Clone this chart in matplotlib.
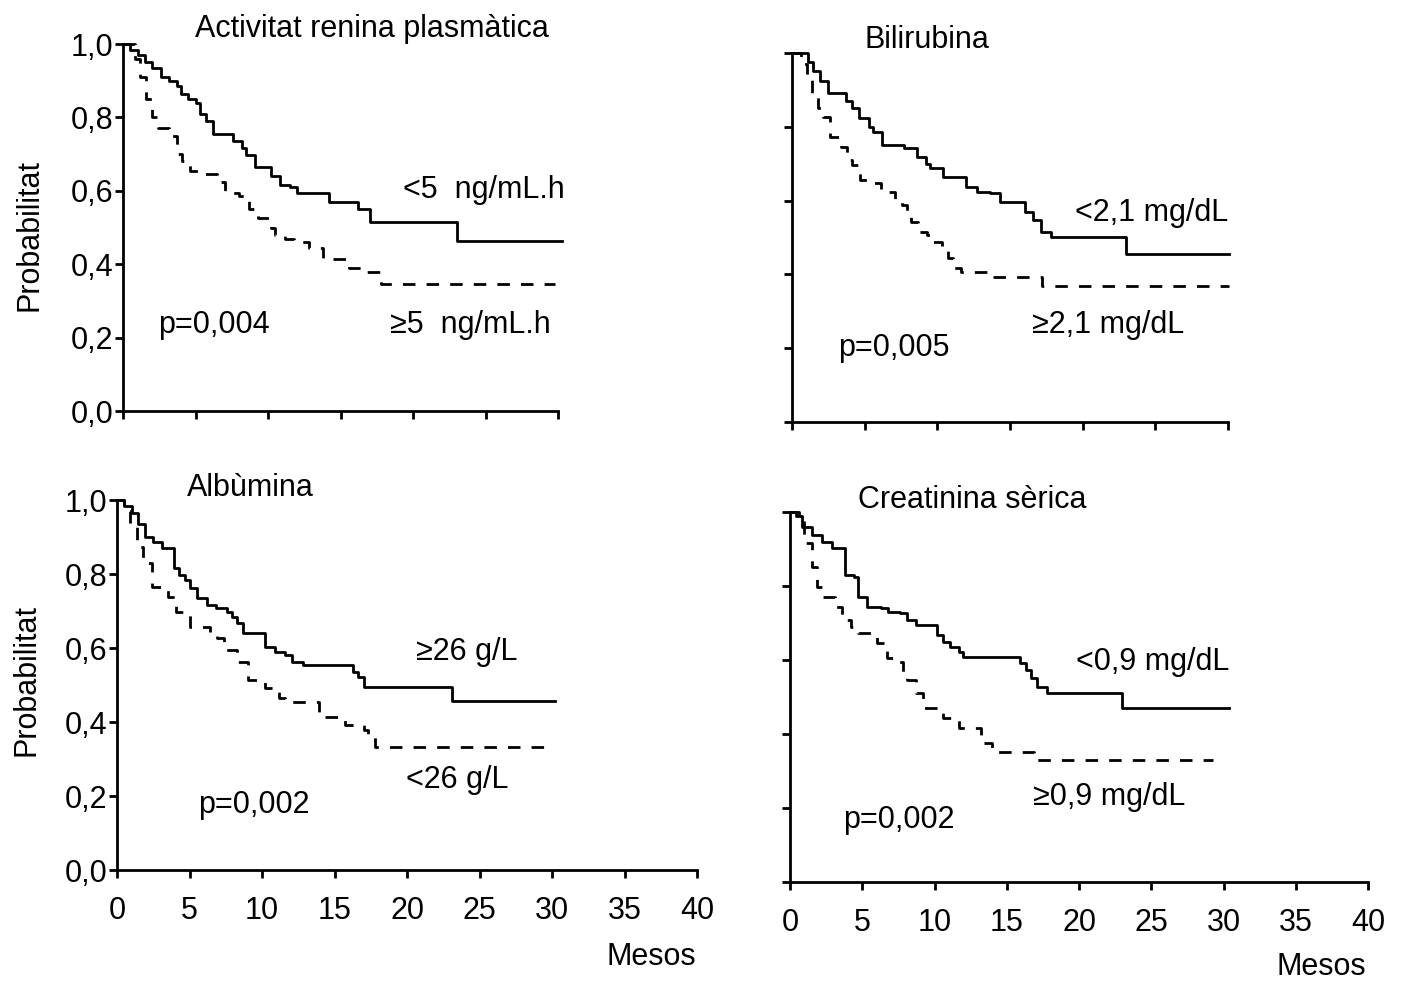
import matplotlib

matplotlib.use("Agg")
import matplotlib.pyplot as plt

plt.rcParams["font.family"] = ["Liberation Sans", "DejaVu Sans"]

W, H = 1402, 983

# Kaplan-Meier steps: time (months) and survival probability after each step
renina_lo_t = [0, 0.5, 1.0, 1.5, 2.0, 2.6, 3.2, 3.7, 4.0, 4.5, 5.0, 5.3, 5.7, 6.2, 7.6, 8.2,
               8.5, 9.1, 10.2, 10.8, 11.5, 12.0, 14.2, 16.2, 17.0, 23.0, 30.3]
renina_lo_s = [1.0, 0.985, 0.97, 0.95, 0.935, 0.91, 0.90, 0.885, 0.865, 0.85, 0.84, 0.81, 0.79,
               0.755, 0.735, 0.717, 0.698, 0.665, 0.64, 0.616, 0.61, 0.594, 0.57, 0.55, 0.516,
               0.463, 0.463]
renina_hi_t = [0, 0.8, 1.2, 1.6, 2.0, 2.4, 3.2, 3.7, 4.1, 4.6, 5.5, 6.5, 7.0, 8.0, 8.7, 9.3,
               10.2, 10.5, 11.2, 11.8, 12.8, 13.8, 15.6, 16.5, 17.8, 29.8]
renina_hi_s = [1.0, 0.96, 0.91, 0.85, 0.80, 0.77, 0.75, 0.70, 0.68, 0.655, 0.645, 0.625, 0.595,
               0.585, 0.55, 0.525, 0.50, 0.48, 0.47, 0.46, 0.445, 0.415, 0.39, 0.378, 0.345, 0.345]

bili_lo_t = [0, 1.1, 1.45, 1.9, 2.5, 3.7, 4.1, 4.6, 5.3, 5.6, 6.2, 7.7, 8.6, 9.2, 9.5, 10.4,
             12.0, 12.7, 13.6, 14.3, 16.0, 16.6, 17.1, 17.8, 23.0, 30.1]
bili_lo_s = [1.0, 0.975, 0.95, 0.925, 0.892, 0.87, 0.85, 0.825, 0.80, 0.785, 0.75, 0.742, 0.718,
             0.70, 0.687, 0.664, 0.637, 0.623, 0.62, 0.596, 0.57, 0.547, 0.515, 0.50, 0.455, 0.455]
bili_hi_t = [0, 0.6, 1.0, 1.4, 1.8, 2.1, 2.6, 3.4, 3.8, 4.1, 4.7, 5.4, 6.1, 7.1, 7.6, 7.9, 8.2,
             8.7, 9.3, 9.7, 10.3, 10.7, 11.1, 11.6, 13.6, 17.2, 30.1]
bili_hi_s = [1.0, 0.97, 0.93, 0.88, 0.85, 0.827, 0.772, 0.745, 0.71, 0.696, 0.656, 0.648, 0.623,
             0.596, 0.588, 0.566, 0.542, 0.515, 0.507, 0.488, 0.474, 0.444, 0.417, 0.407, 0.393,
             0.368, 0.368]

albu_hi_t = [0, 0.5, 1.0, 1.45, 1.9, 2.5, 3.1, 3.9, 4.3, 4.7, 5.0, 5.5, 6.2, 6.8, 7.6, 7.9, 8.3,
             8.7, 10.2, 10.9, 11.6, 12.1, 12.8, 16.3, 16.6, 17.0, 23.1, 30.2]
albu_hi_s = [1.0, 0.985, 0.965, 0.935, 0.90, 0.886, 0.87, 0.816, 0.797, 0.784, 0.762, 0.735,
             0.716, 0.708, 0.697, 0.684, 0.668, 0.64, 0.603, 0.589, 0.581, 0.562, 0.554, 0.535,
             0.522, 0.495, 0.458, 0.458]
albu_lo_t = [0, 0.5, 0.9, 1.4, 1.8, 2.4, 3.5, 4.1, 5.0, 6.4, 6.9, 7.4, 8.3, 9.0, 10.2, 11.2,
             11.6, 13.9, 15.7, 17.0, 17.3, 17.8, 29.7]
albu_lo_s = [1.0, 0.97, 0.93, 0.873, 0.83, 0.765, 0.738, 0.697, 0.657, 0.64, 0.627, 0.595,
             0.562, 0.514, 0.492, 0.465, 0.454, 0.414, 0.392, 0.378, 0.359, 0.332, 0.332]

creat_lo_t = [0, 0.4, 0.8, 1.5, 2.2, 2.9, 3.8, 4.4, 4.7, 5.3, 6.3, 6.8, 7.6, 8.1, 8.7, 10.2,
              10.6, 11.1, 11.7, 12.0, 15.9, 16.3, 16.7, 17.1, 17.8, 23.0, 30.4]
creat_lo_s = [1.0, 0.99, 0.96, 0.938, 0.919, 0.903, 0.83, 0.824, 0.77, 0.743, 0.74, 0.73, 0.727,
              0.708, 0.695, 0.668, 0.649, 0.635, 0.622, 0.608, 0.592, 0.573, 0.551, 0.527, 0.511,
              0.47, 0.47]
creat_hi_t = [0, 0.6, 1.0, 1.5, 1.9, 2.3, 3.1, 3.6, 4.2, 4.7, 6.0, 6.7, 7.4, 7.8, 8.1, 8.7, 9.2,
              10.6, 11.7, 13.2, 13.4, 14.0, 16.9, 29.3]
creat_hi_s = [1.0, 0.973, 0.916, 0.851, 0.797, 0.77, 0.743, 0.708, 0.689, 0.673, 0.646, 0.605,
              0.595, 0.568, 0.546, 0.511, 0.47, 0.443, 0.416, 0.397, 0.376, 0.351, 0.33, 0.33]

y_ticks = [0.0, 0.2, 0.4, 0.6, 0.8, 1.0]
y_tick_labels = ["0,0", "0,2", "0,4", "0,6", "0,8", "1,0"]
x_ticks = [0, 5, 10, 15, 20, 25, 30, 35, 40]

FS = 22
LW = 2.0
DASH = (0, (4.5, 4.0))


def px_axes(fig, left, top, right, bottom):
    return fig.add_axes([left / W, 1 - bottom / H, (right - left) / W, (bottom - top) / H])


def style_axes(ax, x_max, y_labels, x_labels):
    ax.set_xlim(0, x_max)
    ax.set_ylim(0, 1)
    for side in ("top", "right"):
        ax.spines[side].set_visible(False)
    for side in ("left", "bottom"):
        ax.spines[side].set_linewidth(LW)
    ax.set_xticks([t for t in x_ticks if t <= x_max])
    ax.set_yticks(y_ticks)
    ax.set_yticklabels(y_tick_labels if y_labels else [])
    if not x_labels:
        ax.set_xticklabels([])
    ax.tick_params(axis="both", direction="out", length=6, width=LW, labelsize=FS)
    ax.tick_params(axis="y", pad=1)
    ax.tick_params(axis="x", pad=13)


def draw_panel(ax, solid, dashed, title, title_xy, labels, pval_xy, pval):
    ax.step(solid[0], solid[1], where="post", color="black", lw=LW, clip_on=False)
    ax.step(dashed[0], dashed[1], where="post", color="black", lw=LW, linestyle=DASH,
            clip_on=False)
    ax.text(*title_xy, title, ha="center", va="center", fontsize=FS, clip_on=False)
    for (x, y), text in labels:
        ax.text(x, y, text, ha="left", va="center", fontsize=FS)
    ax.text(*pval_xy, pval, ha="left", va="center", fontsize=FS)


fig = plt.figure(figsize=(W / 100, H / 100), dpi=100)

ax_tl = px_axes(fig, 123, 44, 558, 411)
style_axes(ax_tl, 30, True, False)
draw_panel(ax_tl, (renina_lo_t, renina_lo_s), (renina_hi_t, renina_hi_s),
           "Activitat renina plasmàtica", (17.2, 1.04),
           [((19.3, 0.602), "<5  ng/mL.h"), ((18.4, 0.234), "≥5  ng/mL.h")],
           (2.4, 0.234), "p=0,004")

ax_tr = px_axes(fig, 792, 53, 1228, 422)
style_axes(ax_tr, 30, False, False)
draw_panel(ax_tr, (bili_lo_t, bili_lo_s), (bili_hi_t, bili_hi_s),
           "Bilirubina", (9.3, 1.035),
           [((19.5, 0.566), "<2,1 mg/dL"), ((16.5, 0.263), "≥2,1 mg/dL")],
           (3.2, 0.2), "p=0,005")

ax_bl = px_axes(fig, 117, 500, 697, 870)
style_axes(ax_bl, 40, True, True)
draw_panel(ax_bl, (albu_hi_t, albu_hi_s), (albu_lo_t, albu_lo_s),
           "Albùmina", (9.2, 1.032),
           [((20.6, 0.589), "≥26 g/L"), ((19.9, 0.243), "<26 g/L")],
           (5.6, 0.176), "p=0,002")

ax_br = px_axes(fig, 790, 512, 1368, 882)
style_axes(ax_br, 40, False, True)
draw_panel(ax_br, (creat_lo_t, creat_lo_s), (creat_hi_t, creat_hi_s),
           "Creatinina sèrica", (12.6, 1.032),
           [((19.8, 0.595), "<0,9 mg/dL"), ((16.8, 0.23), "≥0,9 mg/dL")],
           (3.7, 0.168), "p=0,002")

fig.text(30 / W, 1 - 235 / H, "Probabilitat", rotation=90, ha="center", va="center", fontsize=FS)
fig.text(27 / W, 1 - 680 / H, "Probabilitat", rotation=90, ha="center", va="center", fontsize=FS)
fig.text(651 / W, 1 - 957 / H, "Mesos", ha="center", va="center", fontsize=FS)
fig.text(1321 / W, 1 - 967 / H, "Mesos", ha="center", va="center", fontsize=FS)

fig.savefig("out.png", dpi=100, facecolor="white")
